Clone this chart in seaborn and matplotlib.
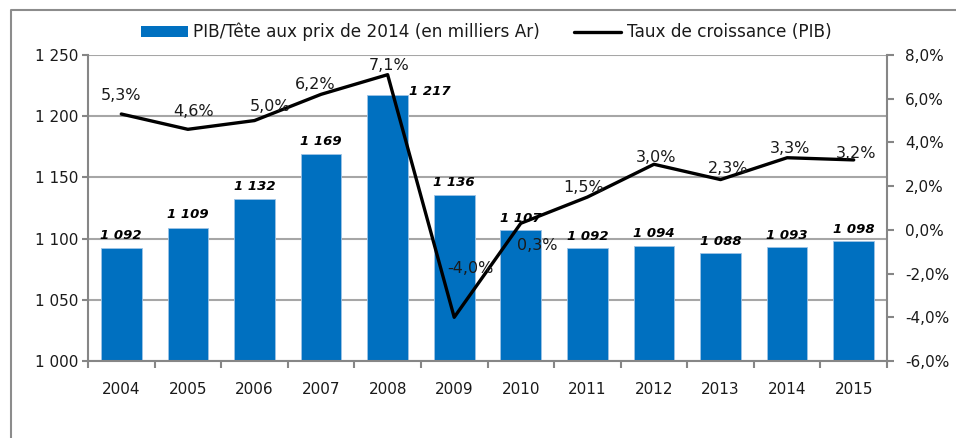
import numpy as np
import pandas as pd
import matplotlib; matplotlib.use("Agg")
import matplotlib.pyplot as plt
import seaborn as sns
from matplotlib.lines import Line2D
from matplotlib.patches import Patch
from matplotlib.ticker import FuncFormatter, MultipleLocator

# ── données ───────────────────────────────────────────────────────────────────
years = ["2004", "2005", "2006", "2007", "2008", "2009",
         "2010", "2011", "2012", "2013", "2014", "2015"]
pib_tete = [1092, 1109, 1132, 1169, 1217, 1136, 1107, 1092, 1094, 1088, 1093, 1098]
croissance = [5.3, 4.6, 5.0, 6.2, 7.1, -4.0, 0.3, 1.5, 3.0, 2.3, 3.3, 3.2]

BAR_LABEL = "PIB/Tête aux prix de 2014 (en milliers Ar)"
LINE_LABEL = "Taux de croissance (PIB)"

# décalages des étiquettes (en pixels, centre du texte / point)
bar_lab_off = [(0, -13)] * 4 + [(42, -4)] + [(0, -12)] * 7
line_lab_off = [(0, -19), (6, -18), (16, -14), (-6, -10), (2, -9), (16, -49),
                (16, 22), (-4, -10), (2, -7), (8, -11), (3, -9), (2, -6)]

BLUE = "#0070C0"
GRID = "#A6A6A6"
SPINE = "#868686"
TXT = "#1A1A1A"
DPI = 100

sns.set_theme(style="white")
plt.rcParams["font.family"] = ["DejaVu Sans"]

df = pd.DataFrame({"annee": years, "pib": pib_tete, "taux": croissance,
                   "pos": np.arange(len(years))})

fig = plt.figure(figsize=(9.56, 4.38), dpi=DPI)
ax = fig.add_axes([88 / 956, 1 - 361 / 438, (887 - 88) / 956, (361 - 55) / 438])

sns.barplot(data=df, x="annee", y="pib", color=BLUE, saturation=1, width=0.61,
            edgecolor="#9DC3E6", linewidth=0.6, ax=ax, zorder=2)
ax.set_ylim(1000, 1250)
ax.set_xlim(-0.5, len(years) - 0.5)
ax.yaxis.set_major_locator(MultipleLocator(50))
ax.yaxis.set_major_formatter(FuncFormatter(lambda v, p: f"{int(v):,}".replace(",", " ")))
ax.grid(axis="y", color=GRID, lw=1.5, zorder=0)
ax.set_axisbelow(True)
ax.set_xlabel("")
ax.set_ylabel("")
for s in ["top", "right"]:
    ax.spines[s].set_visible(False)
for s in ["left", "bottom"]:
    ax.spines[s].set_color(SPINE)
    ax.spines[s].set_linewidth(1.5)
ax.set_xticks(np.arange(len(years)))
ax.set_xticklabels(years)
ax.set_xticks(np.arange(len(years) + 1) - 0.5, minor=True)
ax.tick_params(axis="x", which="major", length=0, pad=15, labelsize=11, labelcolor=TXT)
ax.tick_params(axis="x", which="minor", length=5, width=1.5, color=SPINE, bottom=True)
ax.tick_params(axis="y", length=4, width=1.5, color=SPINE, left=True, pad=3,
               labelsize=11, labelcolor=TXT)

px = 72.0 / DPI
for i, (v, off) in enumerate(zip(pib_tete, bar_lab_off)):
    ax.annotate(f"{v:,}".replace(",", " "), (i, v),
                xytext=(off[0] * px, -off[1] * px), textcoords="offset points",
                ha="center", va="center", fontsize=9.5, fontweight="bold",
                fontstyle="italic", color="black", zorder=5)

ax2 = ax.twinx()
sns.lineplot(data=df, x="pos", y="taux", color="black", lw=2.4, ax=ax2, zorder=4)
ax2.set_ylim(-6, 8)
ax2.set_xlim(-0.5, len(years) - 0.5)
ax2.yaxis.set_major_locator(MultipleLocator(2))
ax2.yaxis.set_major_formatter(FuncFormatter(lambda v, p: f"{v:.1f}%".replace(".", ",")))
ax2.set_ylabel("")
ax2.set_xlabel("")
for s in ["top", "left", "bottom"]:
    ax2.spines[s].set_visible(False)
ax2.spines["right"].set_color(SPINE)
ax2.spines["right"].set_linewidth(1.5)
ax2.tick_params(axis="y", length=5, width=1.5, color=SPINE, right=True, pad=8,
                labelsize=11, labelcolor=TXT)
ax2.grid(False)

for i, (v, off) in enumerate(zip(croissance, line_lab_off)):
    ax2.annotate(f"{v:.1f}%".replace(".", ","), (i, v),
                 xytext=(off[0] * px, -off[1] * px), textcoords="offset points",
                 ha="center", va="center", fontsize=11.5, color=TXT, zorder=6)

handles = [Patch(facecolor=BLUE, edgecolor="none"),
           Line2D([0], [0], color="black", lw=2.4)]
fig.legend(handles, [BAR_LABEL, LINE_LABEL], loc="center", ncol=2,
           bbox_to_anchor=(486 / 956, 1 - 32 / 438), frameon=False,
           fontsize=12.2, handlelength=2.8, handleheight=0.6, handletextpad=0.3,
           columnspacing=2.0, labelcolor=TXT)

# cadre extérieur
fig.add_artist(Line2D([11 / 956, 11 / 956, 1.0], [0.0, 1 - 10 / 438, 1 - 10 / 438],
                      transform=fig.transFigure, color="#8C8C8C", lw=1.5))

fig.savefig("out.png", dpi=DPI)
plt.close(fig)
